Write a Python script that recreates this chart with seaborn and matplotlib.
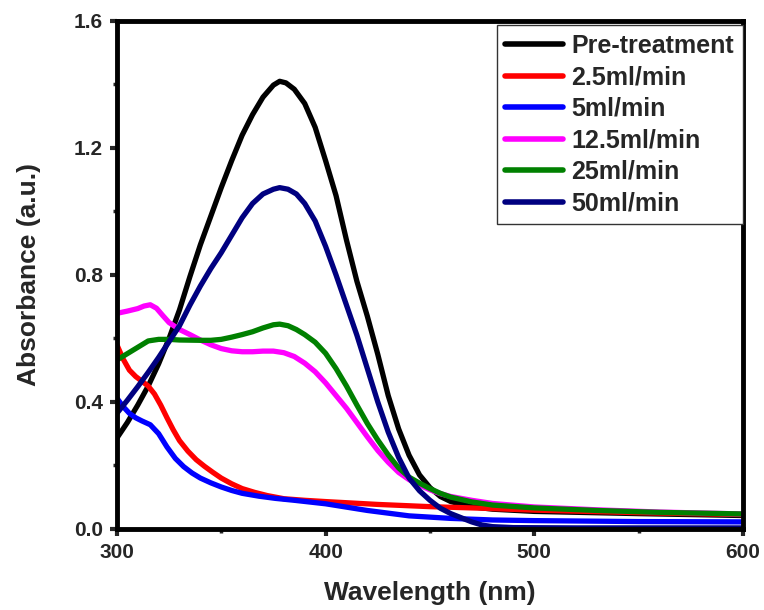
import pandas as pd
import numpy as np
import matplotlib
matplotlib.use("Agg")
import matplotlib.pyplot as plt
import seaborn as sns
from matplotlib.ticker import MultipleLocator, FormatStrFormatter

# UV-vis spectra (wavelength nm, absorbance)
pre_wl = [300, 305, 310, 315, 320, 325, 330, 335, 340, 345, 350, 355, 360, 365, 370, 375, 378,
          381, 385, 390, 395, 400, 405, 410, 415, 420, 425, 430, 435, 440, 445, 450, 455, 460,
          470, 480, 500, 550, 600]
pre_abs = [0.286, 0.335, 0.39, 0.45, 0.52, 0.60, 0.69, 0.795, 0.895, 0.985, 1.075, 1.16, 1.24,
           1.305, 1.36, 1.398, 1.41, 1.405, 1.385, 1.34, 1.265, 1.16, 1.05, 0.91, 0.78, 0.67,
           0.55, 0.42, 0.315, 0.232, 0.17, 0.13, 0.102, 0.086, 0.07, 0.062, 0.055, 0.048, 0.042]

r25_wl = [300, 303, 306, 309, 312, 315, 318, 321, 324, 327, 330, 334, 338, 342, 346, 350, 355,
          360, 366, 372, 380, 390, 400, 425, 450, 475, 500, 550, 600]
r25_abs = [0.58, 0.535, 0.50, 0.48, 0.465, 0.45, 0.425, 0.39, 0.35, 0.312, 0.278, 0.245, 0.218,
           0.197, 0.178, 0.16, 0.142, 0.127, 0.115, 0.105, 0.095, 0.09, 0.086, 0.077, 0.07,
           0.065, 0.059, 0.051, 0.045]

r5_wl = [300, 303, 306, 309, 312, 316, 320, 324, 328, 332, 336, 340, 345, 350, 355, 360, 368,
         376, 385, 400, 420, 440, 460, 480, 500, 550, 600]
r5_abs = [0.412, 0.385, 0.364, 0.35, 0.34, 0.328, 0.30, 0.258, 0.222, 0.196, 0.176, 0.16, 0.145,
          0.132, 0.121, 0.112, 0.103, 0.096, 0.09, 0.079, 0.058, 0.041, 0.033, 0.028, 0.026,
          0.023, 0.022]

r125_wl = [300, 305, 310, 313, 316, 319, 322, 325, 330, 335, 340, 345, 350, 355, 360, 365, 370,
           375, 380, 385, 390, 395, 400, 405, 410, 415, 420, 425, 430, 435, 440, 445, 450, 455,
           460, 470, 480, 500, 530, 560, 600]
r125_abs = [0.679, 0.686, 0.694, 0.702, 0.706, 0.695, 0.672, 0.65, 0.628, 0.612, 0.595, 0.58,
            0.568, 0.561, 0.558, 0.558, 0.56, 0.56, 0.555, 0.543, 0.522, 0.495, 0.46, 0.42,
            0.38, 0.335, 0.29, 0.247, 0.21, 0.178, 0.155, 0.138, 0.123, 0.111, 0.102, 0.09,
            0.08, 0.069, 0.06, 0.053, 0.047]

r25m_wl = [300, 305, 310, 315, 320, 325, 330, 340, 345, 350, 355, 360, 365, 370, 375, 378, 382,
           386, 390, 395, 400, 405, 410, 415, 420, 425, 430, 435, 440, 445, 450, 455, 460, 470,
           480, 500, 530, 560, 600]
r25m_abs = [0.532, 0.552, 0.572, 0.592, 0.597, 0.597, 0.595, 0.594, 0.594, 0.597, 0.604, 0.612,
            0.621, 0.633, 0.643, 0.645, 0.64, 0.628, 0.612, 0.588, 0.553, 0.505, 0.45, 0.39,
            0.332, 0.28, 0.233, 0.192, 0.163, 0.144, 0.127, 0.112, 0.10, 0.085, 0.075, 0.066,
            0.058, 0.052, 0.047]

r50_wl = [300, 305, 310, 315, 320, 325, 330, 335, 340, 345, 350, 355, 360, 365, 370, 375, 378,
          382, 386, 390, 395, 400, 405, 410, 415, 420, 425, 430, 435, 440, 445, 450, 455, 460,
          465, 470, 475, 480, 490, 520, 600]
r50_abs = [0.364, 0.405, 0.448, 0.493, 0.54, 0.59, 0.64, 0.705, 0.765, 0.82, 0.87, 0.925, 0.98,
           1.025, 1.055, 1.07, 1.075, 1.07, 1.055, 1.025, 0.97, 0.89, 0.80, 0.705, 0.61, 0.505,
           0.40, 0.305, 0.225, 0.16, 0.12, 0.09, 0.065, 0.048, 0.035, 0.022, 0.012, 0.007,
           0.004, 0.003, 0.003]

labels = ['Pre-treatment', '2.5ml/min', '5ml/min', '12.5ml/min', '25ml/min', '50ml/min']
colors = ['black', 'red', 'blue', 'magenta', 'green', 'navy']
series = [(pre_wl, pre_abs), (r25_wl, r25_abs), (r5_wl, r5_abs),
          (r125_wl, r125_abs), (r25m_wl, r25m_abs), (r50_wl, r50_abs)]

frames = []
for lab, (w, a) in zip(labels, series):
    frames.append(pd.DataFrame({'Wavelength': w, 'Absorbance': a, 'Sample': lab}))
df = pd.concat(frames, ignore_index=True)

sns.set_style("ticks")
plt.rcParams['font.family'] = ['Liberation Sans', 'DejaVu Sans']
plt.rcParams['font.weight'] = 'bold'

fig = plt.figure(figsize=(7.64, 6.10), dpi=100)
ax = fig.add_axes([0.153, 0.133, 0.8195, 0.8326])

sns.lineplot(data=df, x='Wavelength', y='Absorbance', hue='Sample', hue_order=labels,
             palette=dict(zip(labels, colors)), estimator=None, sort=True,
             linewidth=3.8, ax=ax)

ax.set_xlim(300, 600)
ax.set_ylim(0, 1.6)
ax.xaxis.set_major_locator(MultipleLocator(100))
ax.xaxis.set_minor_locator(MultipleLocator(50))
ax.yaxis.set_major_locator(MultipleLocator(0.4))
ax.yaxis.set_minor_locator(MultipleLocator(0.2))
ax.yaxis.set_major_formatter(FormatStrFormatter('%.1f'))

for sp in ax.spines.values():
    sp.set_visible(True)
    sp.set_linewidth(3.5)
    sp.set_color('black')

ax.tick_params(which='major', direction='out', length=5, width=3, labelsize=15, pad=5)
ax.tick_params(which='minor', direction='out', length=3, width=2.5)
for t in ax.get_xticklabels() + ax.get_yticklabels():
    t.set_fontweight('bold')

ax.set_xlabel('Wavelength (nm)', fontsize=19, fontweight='bold', labelpad=14)
ax.set_ylabel('Absorbance (a.u.)', fontsize=19, fontweight='bold', labelpad=24)

leg = ax.legend(loc='upper right', bbox_to_anchor=(1.0, 0.992), borderaxespad=0,
                fontsize=18, frameon=True, fancybox=False, framealpha=1,
                edgecolor='#333333', handlelength=2.3, handletextpad=0.35,
                labelspacing=0.3, borderpad=0.35)
leg.get_frame().set_linewidth(1.0)
for line in leg.get_lines():
    line.set_linewidth(4)
for t in leg.get_texts():
    t.set_fontweight('bold')

fig.savefig('out.png', dpi=100)
